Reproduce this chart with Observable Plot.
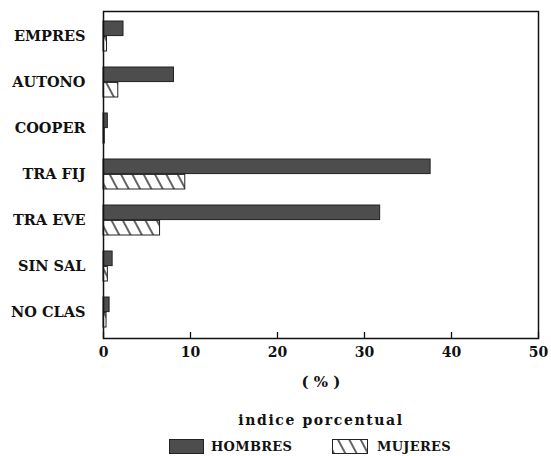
<!DOCTYPE html>
<html>
<head>
<meta charset="utf-8">
<script src="https://cdn.jsdelivr.net/npm/d3@7"></script>
<script src="https://cdn.jsdelivr.net/npm/@observablehq/plot@0.6"></script>
<style>
  html, body { margin: 0; padding: 0; background: #fff; }
  #wrap { position: relative; width: 551px; height: 456px; font-family: "DejaVu Serif", serif; color: #111; }
  .cap { position: absolute; left: 0; width: 642px; text-align: center; line-height: 20px; }
  .lg { position: absolute; line-height: 16px; font-size: 13px; font-weight: bold; letter-spacing: 0.3px; }
  .sw { position: absolute; }
</style>
</head>
<body>
<div id="wrap">
  <div id="chart"></div>
  <div class="cap" style="top:372px; font-weight:bold; font-size:15px;">( % )</div>
  <div class="cap" style="top:410px; font-weight:bold; font-size:14px; letter-spacing:1.6px;">indice porcentual</div>
  <svg class="sw" style="left:169px; top:439px;" width="35" height="15">
    <rect x="0.5" y="0.5" width="34" height="14" fill="#4d4d4d" stroke="#222"></rect>
  </svg>
  <div class="lg" id="lg1" style="left:211px; top:439px;"></div>
  <svg class="sw" style="left:332px; top:439px;" width="36" height="15">
    <defs>
      <pattern id="hatchLegend" patternUnits="userSpaceOnUse" width="10" height="10" patternTransform="rotate(-28)">
        <rect width="10" height="10" fill="white"></rect>
        <line x1="5" y1="0" x2="5" y2="10" stroke="#222" stroke-width="1.4"></line>
      </pattern>
    </defs>
    <rect x="0.5" y="0.5" width="35" height="14" fill="url(#hatchLegend)" stroke="#222"></rect>
  </svg>
  <div class="lg" id="lg2" style="left:377px; top:439px;"></div>
</div>
<script>
const categories = ["EMPRES", "AUTONO", "COOPER", "TRA FIJ", "TRA EVE", "SIN SAL", "NO CLAS"];
const hombres = [2.3, 8.1, 0.5, 37.6, 31.8, 1.05, 0.7];
const mujeres = [0.4, 1.7, 0.15, 9.4, 6.5, 0.5, 0.35];
const seriesNames = ["HOMBRES", "MUJERES"];
const xTicks = [0, 10, 20, 30, 40, 50];

document.getElementById("lg1").textContent = seriesNames[0];
document.getElementById("lg2").textContent = seriesNames[1];

const hData = categories.map((c, i) => ({category: c, value: hombres[i], serie: seriesNames[0]}));
const mData = categories.map((c, i) => ({category: c, value: mujeres[i], serie: seriesNames[1]}));

const W = 551, H = 368, mTop = 11, mBottom = H - 338, mLeft = 103, mRight = 13;
const pInner = 0.34, pOuter = 0.17;
const step = (H - mTop - mBottom) / (categories.length - pInner + 2 * pOuter);
const half = step * (1 - pInner) / 2;

const defs = () => {
  const d = d3.create("svg:defs");
  const p = d.append("pattern").attr("id", "hatch").attr("patternUnits", "userSpaceOnUse")
    .attr("width", 10).attr("height", 10).attr("patternTransform", "rotate(-28)");
  p.append("rect").attr("width", 10).attr("height", 10).attr("fill", "white");
  p.append("line").attr("x1", 5).attr("y1", 0).attr("x2", 5).attr("y2", 10)
    .attr("stroke", "#222").attr("stroke-width", 1.4);
  return d.node();
};

const chart = Plot.plot({
  width: W,
  height: H,
  marginTop: mTop,
  marginBottom: mBottom,
  marginLeft: mLeft,
  marginRight: mRight,
  style: {fontFamily: "DejaVu Serif", fontWeight: "bold", fontSize: "14px", color: "#111", background: "white"},
  x: {domain: [0, 50], ticks: xTicks},
  y: {domain: categories, paddingInner: pInner, paddingOuter: pOuter},
  marks: [
    defs,
    Plot.barX(hData, {x: "value", y: "category", fill: "#4d4d4d", stroke: "#222", strokeWidth: 1, insetBottom: half}),
    Plot.barX(mData, {x: "value", y: "category", fill: "url(#hatch)", stroke: "#222", strokeWidth: 1, insetTop: half}),
    Plot.frame({stroke: "#111", strokeWidth: 1.5}),
    Plot.axisX({ticks: xTicks, tickSize: 6, dy: -6, tickFormat: () => "", label: null, strokeWidth: 1.3}),
    Plot.axisX({ticks: xTicks, tickSize: 0, tickPadding: 9, label: null}),
    Plot.axisY({tickSize: 0, tickPadding: 18, label: null, fontSize: 14.5})
  ]
});
document.getElementById("chart").appendChild(chart);
</script>
</body>
</html>
